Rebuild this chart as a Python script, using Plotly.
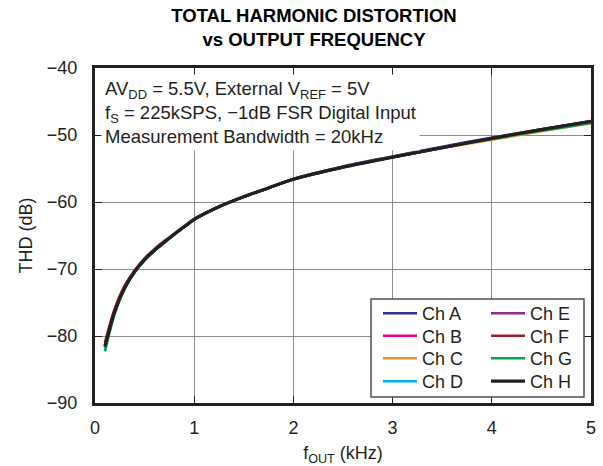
import plotly.graph_objects as go

freq_khz = [0.1, 0.2, 0.3, 0.4, 0.5, 0.6, 0.7, 0.8, 0.9, 1.0, 1.25, 1.5, 1.75, 2.0, 2.5, 3.0, 3.5, 4.0, 4.5, 5.0]

ch_a = [-81.5, -76.2, -72.7, -70.4, -68.6, -67.2, -66.0, -64.8, -63.7, -62.6, -60.7, -59.2, -57.9, -56.55, -54.7, -53.2, -51.75, -50.4, -49.15, -47.95]
ch_b = [-81.3, -76.0, -72.6, -70.3, -68.6, -67.2, -66.0, -64.8, -63.7, -62.6, -60.7, -59.2, -57.9, -56.6, -54.8, -53.3, -51.9, -50.5, -49.2, -47.95]
ch_c = [-81.6, -76.3, -72.8, -70.4, -68.6, -67.2, -66.0, -64.8, -63.7, -62.6, -60.7, -59.2, -57.9, -56.6, -54.8, -53.3, -51.95, -50.7, -49.45, -48.25]
ch_d = [-81.8, -76.4, -72.8, -70.4, -68.6, -67.2, -66.0, -64.8, -63.7, -62.6, -60.7, -59.2, -57.9, -56.6, -54.8, -53.3, -51.9, -50.5, -49.2, -47.95]
ch_e = [-81.4, -76.1, -72.6, -70.2, -68.4, -67.0, -65.8, -64.7, -63.6, -62.5, -60.7, -59.2, -57.9, -56.6, -54.8, -53.3, -51.9, -50.5, -49.2, -47.95]
ch_f = [-81.0, -75.9, -72.5, -70.3, -68.6, -67.2, -66.0, -64.8, -63.7, -62.6, -60.7, -59.2, -57.9, -56.6, -54.8, -53.3, -51.9, -50.5, -49.2, -48.0]
ch_g = [-82.3, -76.6, -72.9, -70.5, -68.7, -67.3, -66.0, -64.8, -63.7, -62.6, -60.7, -59.2, -57.9, -56.6, -54.8, -53.3, -51.9, -50.6, -49.35, -48.2]
ch_h = [-81.6, -76.3, -72.8, -70.4, -68.6, -67.2, -66.0, -64.8, -63.7, -62.6, -60.7, -59.2, -57.9, -56.6, -54.8, -53.3, -51.9, -50.5, -49.2, -47.95]

names = ["Ch A", "Ch B", "Ch C", "Ch D", "Ch E", "Ch F", "Ch G", "Ch H"]
series = [ch_a, ch_b, ch_c, ch_d, ch_e, ch_f, ch_g, ch_h]
colors = ["#2e3192", "#ec008c", "#f7941d", "#00aeef", "#92278f", "#9e1f24", "#00a651", "#231f20"]

FONT = "Liberation Sans, Arial, Helvetica, sans-serif"
W, H = 603, 466
ML, MR, MT, MB = 95, 12, 68, 63
PW, PH = W - ML - MR, H - MT - MB


def px_x(px):
    return (px - ML) / PW


def px_y(py):
    return (H - MB - py) / PH


# legend layout (pixel positions of each entry: column left, row centre)
col_left = [378, 486]
row_mid = [313.5, 336.0, 358.5, 381.5]

fig = go.Figure()
legend_cfg = {}
for i, (n, s, c) in enumerate(zip(names, series, colors)):
    key = "legend" if i == 0 else f"legend{i + 1}"
    fig.add_trace(go.Scatter(
        x=freq_khz, y=s, name=n, mode="lines",
        line=dict(color=c, width=3.2 if n == "Ch H" else 2.6, shape="spline", smoothing=0.8),
        legend=key,
    ))
    legend_cfg[key] = dict(
        x=px_x(col_left[i // 4]), y=px_y(row_mid[i % 4]),
        xanchor="left", yanchor="middle", xref="paper", yref="paper",
        font=dict(family=FONT, size=18, color="#231f20"),
        bgcolor="rgba(0,0,0,0)", borderwidth=0, itemwidth=34,
    )

axis_common = dict(
    showline=True, linecolor="#231f20", linewidth=3, mirror="allticks",
    ticks="inside", ticklen=7, tickwidth=1, tickcolor="#231f20",
    showgrid=True, gridcolor="#8c8c8c", gridwidth=1.2, zeroline=False,
    automargin=False,
    tickfont=dict(family=FONT, size=18, color="#231f20"),
)

fig.update_xaxes(range=[0, 5], dtick=1, tick0=0, ticklabelstandoff=6,
                 title=dict(text="f<sub>OUT</sub> (kHz)", font=dict(family=FONT, size=18, color="#231f20"), standoff=11),
                 **axis_common)
fig.update_yaxes(range=[-90, -40], dtick=10, tick0=-90, ticklabelstandoff=11,
                 title=dict(text="THD (dB)", font=dict(family=FONT, size=18, color="#231f20"), standoff=10),
                 **axis_common)

fig.update_layout(
    width=W, height=H,
    margin=dict(l=ML, r=MR, t=MT, b=MB),
    paper_bgcolor="white", plot_bgcolor="white",
    showlegend=True,
    title=dict(text="<b>TOTAL HARMONIC DISTORTION<br>vs OUTPUT FREQUENCY</b>",
               xref="paper", x=px_x(314), xanchor="center",
               yref="container", y=1 - 21.5 / H, yanchor="middle",
               font=dict(family=FONT, size=18.5, color="#000000")),
    shapes=[dict(type="rect", xref="paper", yref="paper",
                 x0=px_x(371), x1=px_x(584), y0=px_y(397), y1=px_y(299),
                 fillcolor="white", line=dict(color="#4d4d4d", width=1.5), layer="above")],
    annotations=[
        dict(text="AV<sub>DD</sub> = 5.5V, External V<sub>REF</sub> = 5V<br>"
                  "f<sub>S</sub> = 225kSPS, \u22121dB FSR Digital Input<br>"
                  "Measurement Bandwidth = 20kHz",
             xref="paper", yref="paper", x=px_x(101), y=px_y(74), xanchor="left", yanchor="top",
             align="left", showarrow=False, bgcolor="white", borderpad=3,
             font=dict(family=FONT, size=18.5, color="#231f20")),
    ],
    **legend_cfg,
)

fig.write_html("out.html", config={"displayModeBar": False},
               post_script="document.body.style.margin='0';document.body.style.overflow='hidden';")
